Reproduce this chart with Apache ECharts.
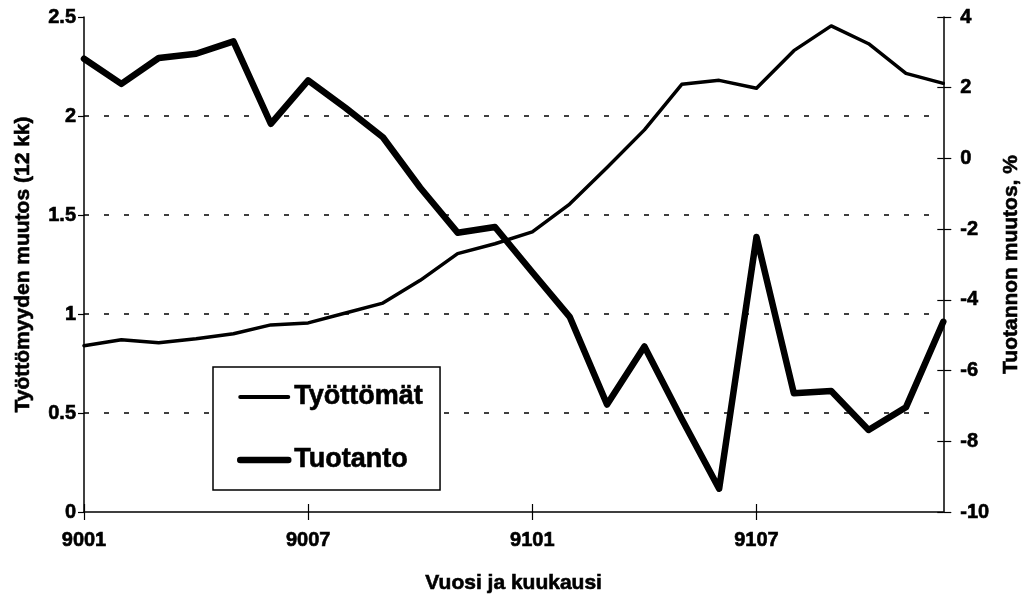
<!DOCTYPE html>
<html>
<head>
<meta charset="utf-8">
<script src="https://cdn.jsdelivr.net/npm/echarts@6/dist/echarts.min.js"></script>
<style>html,body{margin:0;padding:0;background:#fff}#c{width:1030px;height:602px}</style>
</head>
<body>
<div id="c"></div>
<script>
var categories = ['9001','9002','9003','9004','9005','9006','9007','9008','9009','9010','9011','9012',
                  '9101','9102','9103','9104','9105','9106','9107','9108','9109','9110','9111','9112'];
var tyottomat = [0.84, 0.87, 0.855, 0.875, 0.90, 0.945, 0.955, 1.005, 1.055, 1.17, 1.305, 1.355,
                 1.415, 1.555, 1.74, 1.93, 2.16, 2.18, 2.14, 2.33, 2.455, 2.365, 2.215, 2.165];
var tuotanto = [2.82, 2.11, 2.84, 2.96, 3.31, 0.98, 2.21, 1.43, 0.60, -0.83, -2.10, -1.94,
                -3.22, -4.48, -6.96, -5.32, -7.37, -9.34, -2.22, -6.64, -6.58, -7.68, -7.04, -4.62];
var leftTicks = {min: 0, max: 2.5, interval: 0.5};
var rightTicks = {min: -10, max: 4, interval: 2};

var FONT = "'Liberation Sans', Arial, sans-serif";
var chart = echarts.init(document.getElementById('c'), null, {renderer: 'canvas'});
var heavy = {textBorderColor: '#000', textBorderWidth: 0.6};
var labelStyle = Object.assign({color: '#000', fontFamily: FONT, fontWeight: 'bold', fontSize: 20}, heavy);
var nameStyle = Object.assign({color: '#000', fontFamily: FONT, fontWeight: 'bold', fontSize: 21}, heavy);
chart.setOption({
  animation: false,
  backgroundColor: '#fff',
  grid: {left: 84, right: 83, top: 17, bottom: 90, containLabel: false},
  legend: {
    orient: 'vertical', left: 213, top: 367,
    padding: [15, 17, 15, 24],
    backgroundColor: '#fff', borderColor: '#000', borderWidth: 1.5, borderRadius: 0,
    itemWidth: 48, itemHeight: 14, itemGap: 33,
    itemStyle: {opacity: 0, borderWidth: 0},
    textStyle: Object.assign({color: '#000', fontFamily: FONT, fontWeight: 'bold', fontSize: 27, lineHeight: 30, padding: [0, 0, 0, 1]}, heavy),
    data: [
      {name: 'Työttömät', lineStyle: {width: 4, color: '#000'}},
      {name: 'Tuotanto', lineStyle: {width: 6.5, color: '#000'}}
    ]
  },
  xAxis: [{
    type: 'category', data: categories, boundaryGap: false, position: 'bottom',
    name: 'Vuosi ja kuukausi', nameLocation: 'middle', nameGap: 61, nameTextStyle: nameStyle,
    axisLine: {show: true, onZero: false, lineStyle: {color: '#000', width: 1.5}},
    axisTick: {show: true, interval: 5, length: 8, lineStyle: {color: '#000', width: 1.2}},
    axisLabel: Object.assign({interval: 5, margin: 18}, labelStyle),
    splitLine: {show: false}
  }, {
    type: 'category', data: categories, boundaryGap: false, position: 'bottom',
    axisLine: {show: false, onZero: false},
    axisTick: {show: true, inside: true, interval: 5, length: 8, lineStyle: {color: '#000', width: 1.2}},
    axisLabel: {show: false}, splitLine: {show: false}
  }],
  yAxis: [{
    type: 'value', position: 'left', min: leftTicks.min, max: leftTicks.max, interval: leftTicks.interval,
    name: 'Työttömyyden muutos (12 kk)', nameLocation: 'middle', nameRotate: 90, nameGap: 50,
    nameTextStyle: nameStyle,
    axisLine: {show: true, onZero: false, lineStyle: {color: '#000', width: 1.5}},
    axisTick: {show: true, length: 6, lineStyle: {color: '#000', width: 1.2}},
    axisLabel: Object.assign({margin: 8}, labelStyle),
    splitLine: {show: true, lineStyle: {color: ['rgba(0,0,0,0)', '#000', '#000', '#000', '#000', 'rgba(0,0,0,0)'], width: 1.5, type: [5, 15]}}
  }, {
    type: 'value', position: 'right', min: rightTicks.min, max: rightTicks.max, interval: rightTicks.interval,
    name: 'Tuotannon muutos, %', nameLocation: 'middle', nameRotate: 90, nameGap: 57,
    nameTextStyle: nameStyle,
    axisLine: {show: true, onZero: false, lineStyle: {color: '#000', width: 1.5}},
    axisTick: {show: true, length: 8, lineStyle: {color: '#000', width: 1.2}},
    axisLabel: Object.assign({margin: 17}, labelStyle),
    splitLine: {show: false}
  }, {
    type: 'value', position: 'right', min: rightTicks.min, max: rightTicks.max, interval: rightTicks.interval,
    axisLine: {show: false, onZero: false},
    axisTick: {show: true, inside: true, length: 6, lineStyle: {color: '#000', width: 1.2}},
    axisLabel: {show: false}, splitLine: {show: false}
  }],
  series: [{
    name: 'Työttömät', type: 'line', data: tyottomat, yAxisIndex: 0, xAxisIndex: 0,
    symbol: 'none', smooth: false,
    lineStyle: {color: '#000', width: 3.5, join: 'round', cap: 'round'},
    itemStyle: {color: '#000'}
  }, {
    name: 'Tuotanto', type: 'line', data: tuotanto, yAxisIndex: 1, xAxisIndex: 0,
    symbol: 'none', smooth: false,
    lineStyle: {color: '#000', width: 6.5, join: 'round', cap: 'round'},
    itemStyle: {color: '#000'}
  }]
});
</script>
</body>
</html>
